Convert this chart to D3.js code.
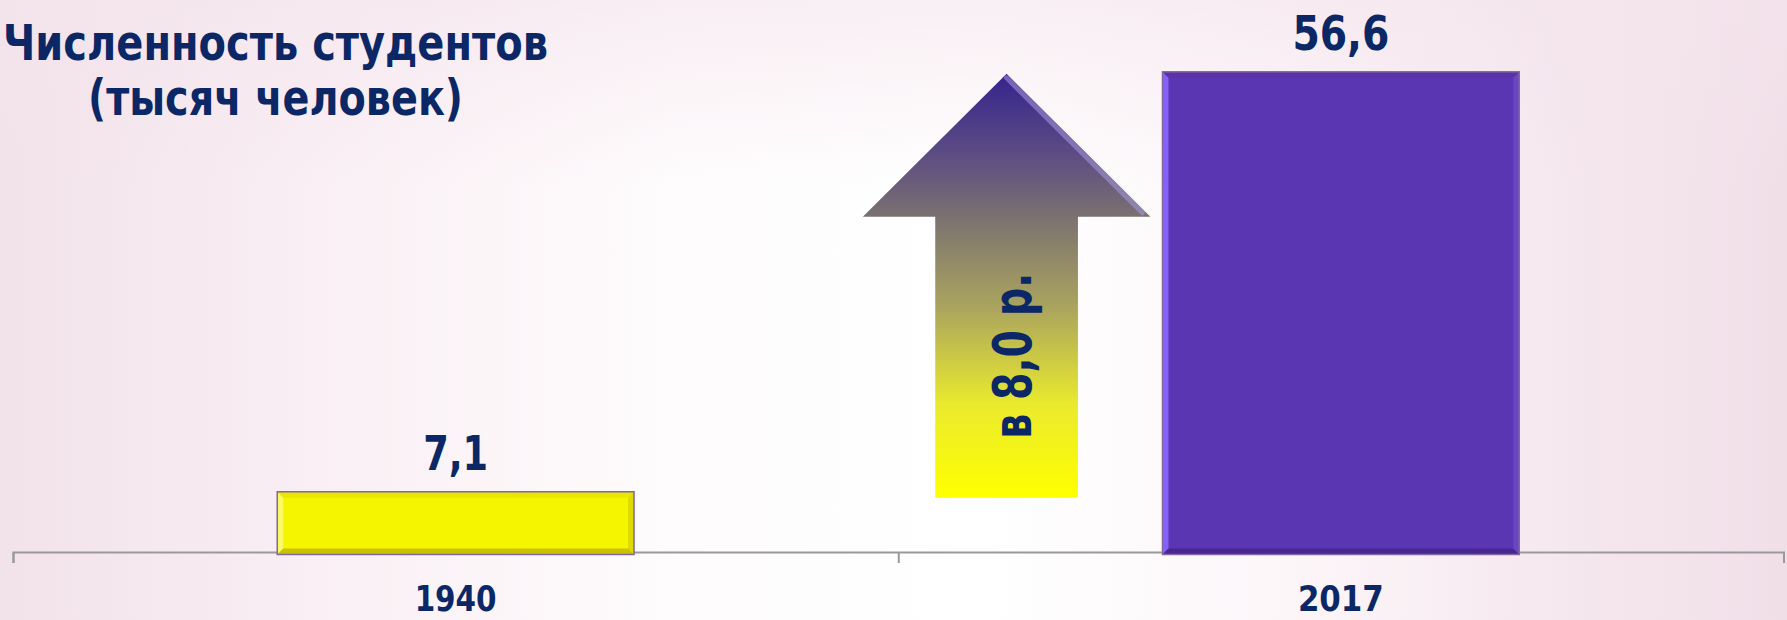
<!DOCTYPE html>
<html>
<head>
<meta charset="utf-8">
<script src="https://cdn.jsdelivr.net/npm/d3@7"></script>
<style>
  html, body { margin: 0; padding: 0; overflow: hidden; background: #fff; }
  text { font-family: 'DejaVu Sans', sans-serif; font-weight: bold; fill: #0b2766; }
</style>
</head>
<body>
<svg width="1787" height="620"></svg>
<script>
// Data
const years = ['1940', '2017'];
const students = [7.1, 56.6];
const titleLines = ['Численность студентов', '(тысяч человек)'];
const barColors = ['#f5f500', '#5b36b3'];

// The svg
const svg = d3.select('svg'),
  width = +svg.attr('width'),
  height = +svg.attr('height');

const margin = { left: 13, right: 3.5 };
const baseY = 552;

// Scales
const x = d3
  .scaleBand()
  .domain(years)
  .range([margin.left, width - margin.right])
  .paddingInner(0.597)
  .paddingOuter(0.2985);

const y = d3.scaleLinear().domain([0, 60]).range([baseY, 43]);

// Background: pink at the sides, white in the middle
const defs = svg.append('defs');
const bg = defs
  .append('linearGradient')
  .attr('id', 'bg')
  .attr('x1', 0)
  .attr('y1', 0)
  .attr('x2', 1)
  .attr('y2', 0);
[
  ['0%', '#f2e2ea'],
  ['18%', '#f9eff4'],
  ['38%', '#fefcfd'],
  ['55%', '#ffffff'],
  ['72%', '#fcf6f9'],
  ['88%', '#f5e7ee'],
  ['100%', '#f1dfe8'],
].forEach(function (s) {
  bg.append('stop').attr('offset', s[0]).attr('stop-color', s[1]);
});
const bgTop = defs
  .append('linearGradient')
  .attr('id', 'bgTop')
  .attr('x1', 0)
  .attr('y1', 0)
  .attr('x2', 0)
  .attr('y2', 1);
bgTop.append('stop').attr('offset', '0%').attr('stop-color', '#f4e4ec').attr('stop-opacity', 0.6);
bgTop.append('stop').attr('offset', '30%').attr('stop-color', '#f4e4ec').attr('stop-opacity', 0);

svg
  .append('rect')
  .attr('width', width)
  .attr('height', height)
  .attr('fill', 'url(#bg)');
svg
  .append('rect')
  .attr('width', width)
  .attr('height', height)
  .attr('fill', 'url(#bgTop)');

// Arrow gradient
const ag = defs
  .append('linearGradient')
  .attr('id', 'arrowGrad')
  .attr('x1', 0)
  .attr('y1', 0)
  .attr('x2', 0)
  .attr('y2', 1);
[
  ['0%', '#35248c'],
  ['18%', '#5a4a84'],
  ['34%', '#7b7270'],
  ['55%', '#aaa45e'],
  ['78%', '#eaea2e'],
  ['100%', '#ffff00'],
].forEach(function (s) {
  ag.append('stop').attr('offset', s[0]).attr('stop-color', s[1]);
});

// Axis: line with ticks at category boundaries
const edge = d3
  .scaleLinear()
  .domain([0, years.length])
  .range([margin.left, width - margin.right]);
const gAxis = svg
  .append('g')
  .attr('transform', `translate(0, ${baseY})`)
  .call(
    d3
      .axisBottom(edge)
      .tickValues(d3.range(years.length + 1))
      .tickFormat('')
      .tickSize(11)
      .tickSizeOuter(11)
  );
gAxis.selectAll('path, line').attr('stroke', '#999').attr('stroke-width', 2);

// Bars
const bevel = 6;
const bars = svg
  .append('g')
  .selectAll('g')
  .data(years)
  .enter()
  .append('g');

bars.each(function (d, i) {
  const g = d3.select(this);
  const x0 = x(d),
    x1 = x(d) + x.bandwidth(),
    y0 = y(students[i]),
    y1 = baseY + 2.5;
  g.append('rect')
    .attr('x', x0)
    .attr('y', y0)
    .attr('width', x1 - x0)
    .attr('height', y1 - y0)
    .attr('fill', barColors[i]);
  const b = bevel;
  const faces = [
    // left, top, right, bottom
    [[x0, y0], [x0 + b, y0 + b], [x0 + b, y1 - b], [x0, y1]],
    [[x0, y0], [x1, y0], [x1 - b, y0 + b], [x0 + b, y0 + b]],
    [[x1, y0], [x1, y1], [x1 - b, y1 - b], [x1 - b, y0 + b]],
    [[x0, y1], [x0 + b, y1 - b], [x1 - b, y1 - b], [x1, y1]],
  ];
  const shades =
    i === 0
      ? ['#fbfb70', '#e8e400', '#dcd800', '#c4bc00']
      : ['#8866ff', '#5a32a8', '#6b48c6', '#45278f'];
  faces.forEach(function (f, k) {
    g.append('path')
      .attr('d', 'M' + f.join('L') + 'Z')
      .attr('fill', shades[k])
      .attr('opacity', 0.9);
  });
  g.append('rect')
    .attr('x', x0)
    .attr('y', y0)
    .attr('width', x1 - x0)
    .attr('height', y1 - y0)
    .attr('fill', 'none')
    .attr('stroke', '#84659f')
    .attr('stroke-width', 1.5);
});

// Value labels
svg
  .append('g')
  .selectAll('text')
  .data(years)
  .enter()
  .append('text')
  .attr('x', (d) => x(d) + x.bandwidth() / 2)
  .attr('y', (d, i) => y(students[i]) - 22)
  .attr('text-anchor', 'middle')
  .attr('font-size', 48)
  .attr('textLength', (d, i) => (i === 0 ? 65 : 97))
  .attr('lengthAdjust', 'spacingAndGlyphs')
  .text((d, i) => String(students[i]).replace('.', ','));

// Category labels
svg
  .append('g')
  .selectAll('text')
  .data(years)
  .enter()
  .append('text')
  .attr('x', (d) => x(d) + x.bandwidth() / 2)
  .attr('y', baseY + 59)
  .attr('text-anchor', 'middle')
  .attr('font-size', 36)
  .attr('textLength', (d, i) => (i === 0 ? 82 : 86))
  .attr('lengthAdjust', 'spacingAndGlyphs')
  .text((d) => d);

// Growth arrow between the bars
const bw = x.bandwidth();
const cx = x(years[1]) - 0.437 * bw;
const tipY = y(students[1]) + 2;
const headY = tipY + 143;
const botY = y(students[0]) + 6;
const headHalf = 0.403 * bw;
const shaftHalf = 0.2 * bw;
const arrowPts = [
  [cx, tipY],
  [cx + headHalf, headY],
  [cx + shaftHalf, headY],
  [cx + shaftHalf, botY],
  [cx - shaftHalf, botY],
  [cx - shaftHalf, headY],
  [cx - headHalf, headY],
];
svg
  .append('path')
  .attr('d', 'M' + arrowPts.join('L') + 'Z')
  .attr('fill', 'url(#arrowGrad)');
// bevel highlight on the right edge of the head
svg
  .append('path')
  .attr('d', `M${cx},${tipY + 4}L${cx + headHalf - 8},${headY - 4}`)
  .attr('stroke', '#a89ae0')
  .attr('stroke-width', 5)
  .attr('stroke-linecap', 'round')
  .attr('opacity', 0.55);

const ratio = (students[1] / students[0]).toFixed(1).replace('.', ',');
svg
  .append('text')
  .attr('transform', `translate(${cx + 24}, ${botY - 59}) rotate(-90)`)
  .attr('font-size', 54)
  .attr('textLength', 166)
  .attr('lengthAdjust', 'spacingAndGlyphs')
  .text(`в ${ratio} р.`);

// Title
svg
  .append('g')
  .selectAll('text')
  .data(titleLines)
  .enter()
  .append('text')
  .attr('x', 275.5)
  .attr('y', (d, i) => 60 + i * 55)
  .attr('text-anchor', 'middle')
  .attr('font-size', 49)
  .attr('textLength', (d, i) => (i === 0 ? 545 : 375))
  .attr('lengthAdjust', 'spacingAndGlyphs')
  .text((d) => d);
</script>
</body>
</html>
